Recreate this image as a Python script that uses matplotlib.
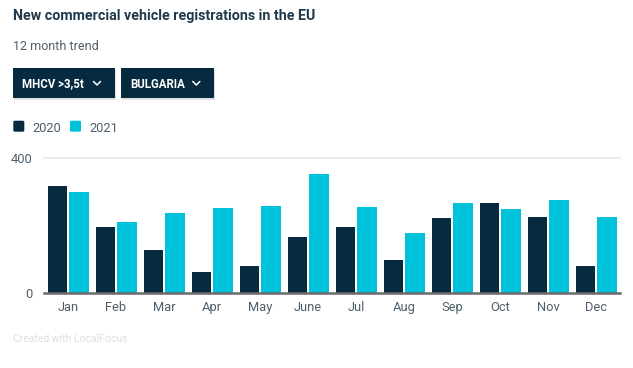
import matplotlib
matplotlib.use("Agg")
import matplotlib.pyplot as plt
from matplotlib import font_manager
from matplotlib.patches import FancyBboxPatch, Rectangle
from matplotlib.lines import Line2D
import numpy as np

months = ["Jan", "Feb", "Mar", "Apr", "May", "June", "Jul", "Aug", "Sep", "Oct", "Nov", "Dec"]
values_2020 = [318, 196, 127, 62, 79, 166, 196, 97, 222, 267, 225, 79]
values_2021 = [300, 210, 237, 252, 258, 353, 255, 178, 267, 249, 276, 225]
series_labels = ["2020", "2021"]
filters = ["MHCV >3,5t", "BULGARIA"]

DARK = "#062b40"
CYAN = "#00c2da"
TEXT = "#1f3a4d"
GREY = "#4e5f6c"

W, H = 633, 368

# pick a narrow font if there is one, Roboto otherwise
names = {f.name for f in font_manager.fontManager.ttflist}
font = "Liberation Sans Narrow" if "Liberation Sans Narrow" in names else "Roboto"
plt.rcParams["font.family"] = [font, "DejaVu Sans"]

fig = plt.figure(figsize=(W / 100, H / 100), dpi=100)


def fx(px):
    return px / W


def fy(py):
    return 1 - py / H


# header texts
fig.text(fx(13), fy(20), "New commercial vehicle registrations in the EU",
         fontsize=10.3, fontweight="bold", color=TEXT, va="baseline")
fig.text(fx(13), fy(50.5), "12 month trend", fontsize=9, color=GREY, va="baseline")

# filter buttons
boxes = [(13.3, 115), (121, 214.3)]
for (x0, x1), label in zip(boxes, filters):
    shadow = Rectangle((fx(x0 + 1), fy(99.5)), fx(x1 - x0), fy(68.3) - fy(98.3),
                       transform=fig.transFigure, facecolor="#000000", alpha=0.12,
                       edgecolor="none")
    fig.add_artist(shadow)
    box = Rectangle((fx(x0), fy(98.3)), fx(x1 - x0), fy(68.3) - fy(98.3),
                    transform=fig.transFigure, facecolor=DARK, edgecolor="none")
    fig.add_artist(box)
    fig.text(fx(x0 + 9), fy(87.5), label, fontsize=8.3, fontweight="bold",
             color="white", va="baseline")
    cx = x1 - 18
    fig.add_artist(Line2D([fx(cx - 3.5), fx(cx), fx(cx + 3.5)], [fy(81.5), fy(85), fy(81.5)],
                          transform=fig.transFigure, color="white", lw=1.1,
                          solid_capstyle="round", solid_joinstyle="round"))

# legend
for x, color, label in [(13.3, DARK, series_labels[0]), (70, CYAN, series_labels[1])]:
    sq = FancyBboxPatch((fx(x), fy(131.7)), fx(11), fy(120.7) - fy(131.7),
                        boxstyle="round,pad=0,rounding_size=0.003",
                        transform=fig.transFigure, facecolor=color, edgecolor="none")
    fig.add_artist(sq)
    fig.text(fx(x + 19), fy(131.5), label, fontsize=9.3, color=GREY, va="baseline")

# chart
ax = fig.add_axes([fx(44), fy(292.7), fx(620 - 44), fy(158.3) - fy(292.7)])
x = np.arange(len(months))
width = 0.405
ax.bar(x - 0.218, values_2020, width, color=DARK, zorder=2)
ax.bar(x + 0.232, values_2021, width, color=CYAN, zorder=2)

ax.set_xlim(-0.5, len(months) - 0.5)
ax.set_ylim(0, 400)
ax.axhline(400, color="#ebebeb", lw=1.5, zorder=1, clip_on=False)
ax.axhline(0, color="#6b6b6b", lw=1.8, zorder=3, clip_on=False)

for s in ax.spines.values():
    s.set_visible(False)
ax.set_yticks([0, 400])
ax.set_yticklabels(["0", "400"])
ax.set_xticks(x)
ax.set_xticklabels(months)
ax.tick_params(axis="both", length=0, labelsize=9.3, labelcolor=GREY)
ax.tick_params(axis="x", pad=6)
ax.tick_params(axis="y", pad=8)

fig.text(fx(13), fy(342), "Created with LocalFocus", fontsize=7.5, color="#dedede",
         va="baseline")

fig.savefig("out.png", dpi=100)
